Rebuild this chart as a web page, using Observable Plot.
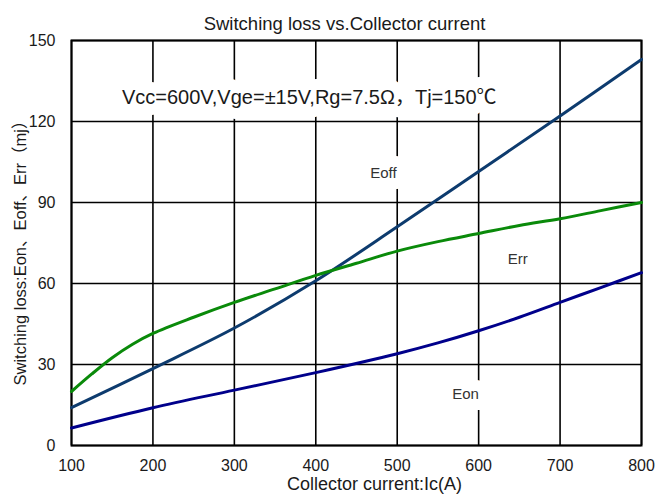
<!DOCTYPE html>
<html>
<head>
<meta charset="utf-8">
<script src="https://cdn.jsdelivr.net/npm/d3@7"></script>
<script src="https://cdn.jsdelivr.net/npm/@observablehq/plot@0.6"></script>
<style>
  html, body { margin: 0; padding: 0; background: #fff; }
  #chart svg { display: block; }
</style>
</head>
<body>
<div id="chart"></div>
<script>
// ---- data ----
const eonX  = [100, 200, 300, 400, 500, 550, 600, 650, 700, 750, 800];
const eonY  = [6.5, 14, 20.5, 27, 34, 38, 42.5, 47.5, 53, 58.5, 64];

const eoffX = [100, 200, 300, 400, 500, 600, 700, 800];
const eoffY = [14, 28.5, 43.5, 61, 81, 101.5, 122, 143];

const errX  = [100, 125, 150, 175, 200, 250, 300, 350, 400, 450, 500, 550, 600, 650, 700, 750, 800];
const errY  = [20, 26.5, 32.5, 37.5, 41.5, 47.5, 53, 58, 63, 67.5, 72, 75.5, 78.5, 81.5, 84, 87, 90];

const xTicks = [100, 200, 300, 400, 500, 600, 700, 800];
const yTicks = [0, 30, 60, 90, 120, 150];

const labelText = ["Eoff", "Err", "Eon"];
const labelX = [483, 648, 584];
const labelY = [100.7, 69, 19];

const condText = "Vcc=600V,Vge=±15V,Rg=7.5Ω，Tj=150℃";
const condX = 392, condY = 129;

const titleText = "Switching loss vs.Collector current";
const xLabelText = "Collector current:Ic(A)";
const yLabelText = "Switching loss:Eon、Eoff、Err（mj）";

// ---- build tables ----
const toRows = (xs, ys) => xs.map((x, i) => ({x, y: ys[i]}));
const eon = toRows(eonX, eonY);
const eoff = toRows(eoffX, eoffY);
const err = toRows(errX, errY);
const labels = labelText.map((t, i) => ({t, x: labelX[i], y: labelY[i]}));

const font = "'Liberation Sans', Arial, 'Noto Sans CJK SC', sans-serif";
const ink = "#1a1a1a";

const chart = Plot.plot({
  width: 661,
  height: 499,
  marginLeft: 71,
  marginRight: 20,
  marginTop: 40,
  marginBottom: 54,
  style: {fontFamily: font, fontSize: "14px", color: ink, background: "#fff"},
  x: {domain: [100, 800], ticks: xTicks, label: null},
  y: {domain: [0, 150], ticks: yTicks, label: null},
  marks: [
    Plot.gridX(xTicks, {stroke: "#000", strokeOpacity: 1, strokeWidth: 1.6}),
    Plot.gridY(yTicks, {stroke: "#000", strokeOpacity: 1, strokeWidth: 1.6}),
    // annotation texts with white background (gaps in the grid)
    Plot.text([condText], {x: () => condX, y: () => condY, text: d => d, fill: ink, stroke: "white", strokeWidth: 22, fontSize: 20, fontFamily: font}),
    Plot.text(labels.filter(d => d.t !== "Err"), {x: "x", y: "y", text: "t", fill: "#333", stroke: "white", strokeWidth: 22, fontSize: 15, fontFamily: font}),
    Plot.text(labels.filter(d => d.t === "Err"), {x: "x", y: "y", text: "t", fill: "#333", fontSize: 15, fontFamily: font}),
    Plot.frame({stroke: "#000", strokeWidth: 2}),
    Plot.line(eon, {x: "x", y: "y", stroke: "#00008B", strokeWidth: 3, curve: "catmull-rom"}),
    Plot.line(eoff, {x: "x", y: "y", stroke: "#0D3B6E", strokeWidth: 3, curve: "catmull-rom"}),
    Plot.line(err, {x: "x", y: "y", stroke: "#0A8A0A", strokeWidth: 3, curve: "catmull-rom"}),
    Plot.axisX(xTicks, {tickSize: 0, tickPadding: 14, fontSize: 16, fill: ink}),
    Plot.axisY(yTicks, {tickSize: 0, tickPadding: 16, fontSize: 16, fill: ink}),
    Plot.text([titleText], {frameAnchor: "top", text: d => d, dx: -12, dy: -24, fontSize: 18.5, fill: ink, fontFamily: font}),
    Plot.text([xLabelText], {frameAnchor: "bottom", text: d => d, dx: 18, dy: 44, fontSize: 18, fill: ink, fontFamily: font}),
    Plot.text([yLabelText], {frameAnchor: "left", textAnchor: "middle", text: d => d, rotate: -90, dx: -51, dy: 6, fontSize: 16.5, fill: ink, fontFamily: font})
  ]
});
document.getElementById("chart").appendChild(chart);
</script>
</body>
</html>
